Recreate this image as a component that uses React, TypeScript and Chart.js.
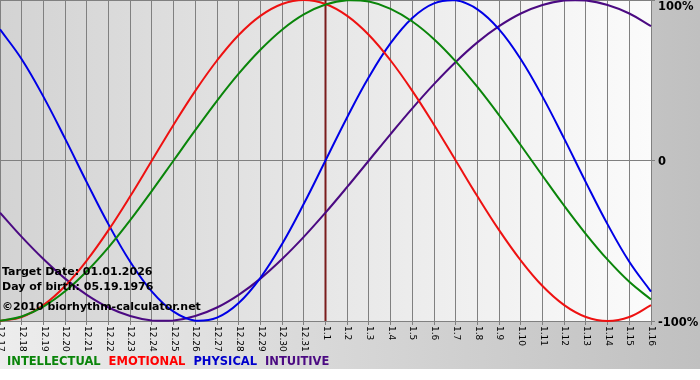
import React, { useEffect, useRef } from "react";
import { Chart, registerables } from "chart.js";

Chart.register(...registerables);

const dateLabels = [
  "12.17", "12.18", "12.19", "12.20", "12.21", "12.22", "12.23", "12.24", "12.25", "12.26",
  "12.27", "12.28", "12.29", "12.30", "12.31", "1.1", "1.2", "1.3", "1.4", "1.5",
  "1.6", "1.7", "1.8", "1.9", "1.10", "1.11", "1.12", "1.13", "1.14", "1.15", "1.16",
];

const intellectual = [
  -99.9, -97.2, -91.0, -81.5, -69.0, -54.1, -37.2, -18.9, 0, 18.9, 37.2, 54.1, 69.0, 81.5, 91.0,
  97.2, 99.9, 99.0, 94.5, 86.6, 75.6, 61.8, 45.8, 28.2, 9.5, -9.5, -28.2, -45.8, -61.8, -75.6, -86.6,
];
const emotional = [
  -100, -97.5, -90.1, -78.2, -62.3, -43.4, -22.3, 0, 22.3, 43.4, 62.3, 78.2, 90.1, 97.5, 100,
  97.5, 90.1, 78.2, 62.3, 43.4, 22.3, 0, -22.3, -43.4, -62.3, -78.2, -90.1, -97.5, -100, -97.5, -90.1,
];
const physical = [
  81.7, 63.1, 39.8, 13.6, -13.6, -39.8, -63.1, -81.7, -94.2, -99.8, -97.9, -88.8, -73.1, -52.0, -27.0,
  0, 27.0, 52.0, 73.1, 88.8, 97.9, 99.8, 94.2, 81.7, 63.1, 39.8, 13.6, -13.6, -39.8, -63.1, -81.7,
];
const intuitive = [
  -32.5, -47.6, -61.4, -73.6, -83.7, -91.6, -96.9, -99.7, -99.7, -96.9, -91.6, -83.7, -73.6, -61.4, -47.6,
  -32.5, -16.5, 0, 16.5, 32.5, 47.6, 61.4, 73.6, 83.7, 91.6, 96.9, 99.7, 99.7, 96.9, 91.6, 83.7,
];

const yTickValues = [100, 0, -100];
const yTickLabels = ["100%", "0", "-100%"];
const targetLabel = "1.1";
const infoLines = ["Target Date: 01.01.2026", "Day of birth: 05.19.1976", "\u00a92010 biorhythm-calculator.net"];
const legendNames = ["INTELLECTUAL", "EMOTIONAL", "PHYSICAL", "INTUITIVE"];
const seriesColors = ["#0a850a", "#ee1111", "#0000e6", "#4b0a82"];
const legendColors = ["#0a850a", "#ff0000", "#0000cc", "#4b0a82"];

const decorPlugin = {
  id: "decor",
  beforeDraw(chart: any) {
    const { ctx, chartArea, width, height } = chart;
    ctx.save();
    ctx.fillStyle = "#ffffff";
    ctx.fillRect(0, 0, width, height);
    const g = ctx.createLinearGradient(0, 0, width, 0);
    g.addColorStop(0, "#ededed");
    g.addColorStop(1, "#c0c0c0");
    ctx.fillStyle = g;
    ctx.fillRect(0, 0, width, 369);
    const pg = ctx.createLinearGradient(chartArea.left, 0, chartArea.right, 0);
    pg.addColorStop(0, "#d3d3d3");
    pg.addColorStop(1, "#fbfbfb");
    ctx.fillStyle = pg;
    ctx.fillRect(chartArea.left, chartArea.top, chartArea.right - chartArea.left, chartArea.bottom - chartArea.top);
    ctx.restore();
  },
  beforeDatasetsDraw(chart: any) {
    const { ctx, chartArea, scales } = chart;
    const x = scales.x.getPixelForValue(dateLabels.indexOf(targetLabel));
    ctx.save();
    ctx.strokeStyle = "#7a1c1c";
    ctx.lineWidth = 2;
    ctx.beginPath();
    ctx.moveTo(x, chartArea.top);
    ctx.lineTo(x, chartArea.bottom);
    ctx.stroke();
    ctx.restore();
  },
  afterDatasetsDraw(chart: any) {
    const { ctx, chartArea, scales } = chart;
    ctx.save();
    // x tick labels, rotated clockwise
    ctx.fillStyle = "#000000";
    ctx.font = "9px 'DejaVu Sans'";
    ctx.textAlign = "left";
    ctx.textBaseline = "middle";
    dateLabels.forEach((lab, i) => {
      const x = scales.x.getPixelForValue(i);
      ctx.save();
      ctx.translate(x + 0.5, chartArea.bottom + 5);
      ctx.rotate(Math.PI / 2);
      ctx.fillText(lab, 0, 0);
      ctx.restore();
    });
    // y tick labels on the right
    ctx.font = "bold 11.5px 'DejaVu Sans'";
    ctx.textBaseline = "middle";
    yTickValues.forEach((v, i) => {
      const y = Math.max(7, scales.y.getPixelForValue(v) + 2);
      ctx.fillText(yTickLabels[i], chartArea.right + 7, y);
    });
    // info text
    ctx.font = "bold 11px 'DejaVu Sans'";
    const infoY = [272, 287, 307];
    infoLines.forEach((t, i) => ctx.fillText(t, 2, infoY[i]));
    // legend
    ctx.font = "bold 11.5px 'DejaVu Sans'";
    let lx = 7;
    legendNames.forEach((n, i) => {
      ctx.fillStyle = legendColors[i];
      ctx.fillText(n, lx, 362);
      lx += ctx.measureText(n).width + 8;
    });
    ctx.restore();
  },
};

export default function App() {
  const ref = useRef<HTMLCanvasElement>(null);
  useEffect(() => {
    document.body.style.margin = "0";
    const canvas = ref.current!;
    const seriesData = [intellectual, emotional, physical, intuitive];
    const chart = new Chart(canvas, {
      type: "line",
      data: {
        labels: dateLabels,
        datasets: legendNames.map((name, i) => ({
          label: name,
          data: seriesData[i],
          borderColor: seriesColors[i],
          backgroundColor: seriesColors[i],
          borderWidth: 2,
          pointRadius: 0,
          tension: 0.4,
          fill: false,
          clip: false as any,
        })),
      },
      options: {
        responsive: false,
        animation: false,
        devicePixelRatio: 1,
        layout: { padding: 0 },
        plugins: { legend: { display: false }, tooltip: { enabled: false }, title: { display: false } },
        scales: {
          x: {
            type: "category",
            offset: false,
            ticks: { display: false },
            grid: { color: "#808080", lineWidth: 1, drawTicks: true, tickLength: 4, offset: false },
            border: { color: "#808080" },
            afterFit: (s: any) => { s.height = 59; },
          },
          y: {
            position: "right",
            min: -100,
            max: 100,
            ticks: { display: false, stepSize: 100 },
            grid: { color: "#808080", lineWidth: 1, drawTicks: true, tickLength: 4 },
            border: { color: "#808080" },
            afterFit: (s: any) => { s.width = 49; },
          },
        },
      },
      plugins: [decorPlugin],
    });
    return () => chart.destroy();
  }, []);
  return <canvas ref={ref} width={700} height={380} style={{ display: "block" }} />;
}
